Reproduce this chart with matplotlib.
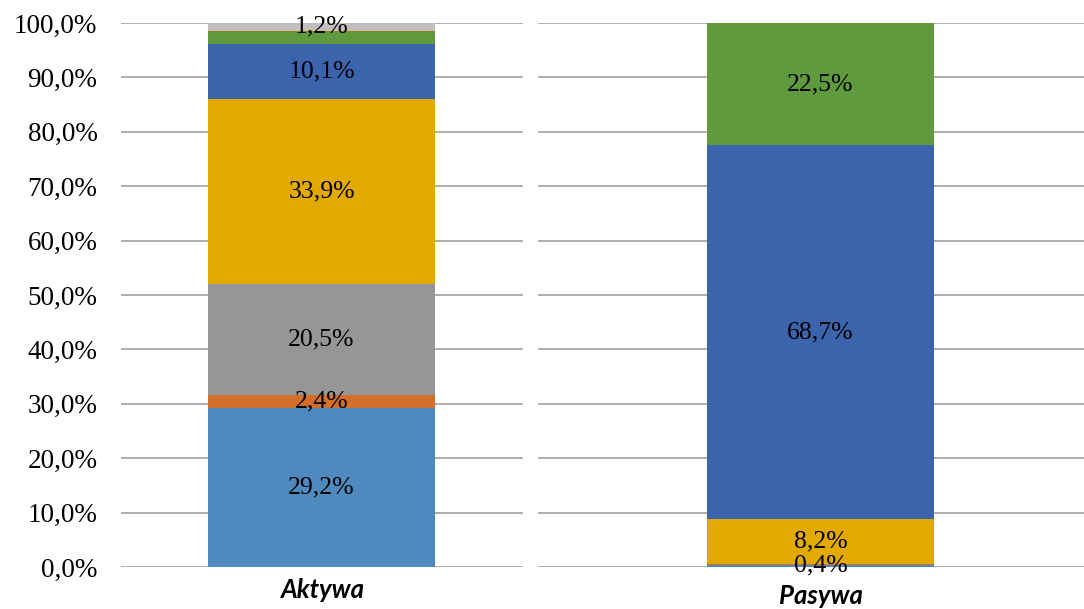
import matplotlib
matplotlib.use("Agg")
import matplotlib.pyplot as plt
import numpy as np

# Balance sheet structure, percent of total
categories = ["Aktywa", "Pasywa"]
series_colors = ["#4F8ABE", "#D36E2B", "#969696", "#E2AA00",
                 "#3C64AD", "#609A3F", "#F4B183", "#C0C0C0"]
series_values = [
    [29.2, 0.4],
    [2.4, 0.2],
    [20.5, 0.0],
    [33.9, 8.2],
    [10.1, 68.7],
    [2.5, 22.5],
    [0.2, 0.0],
    [1.2, 0.0],
]
# which segments carry a value label: (series index, category index)
labelled = {(0, 0), (1, 0), (2, 0), (3, 0), (4, 0), (7, 0),
            (0, 1), (3, 1), (4, 1), (5, 1)}
ytick_values = [0, 10, 20, 30, 40, 50, 60, 70, 80, 90, 100]

SERIF = "Liberation Serif"
SANS = "Lato"

fig = plt.figure(figsize=(10.84, 6.09), dpi=100)
ax = fig.add_axes([121 / 1084, 42 / 609, 963 / 1084, 544 / 609])
ax.set_xlim(-0.402, 1.528)
ax.set_ylim(0, 100)

# gridlines, broken between the two columns
for yv in ytick_values:
    ax.axhline(yv, xmin=0, xmax=0.416, color="#A0A0A0", lw=1.2, zorder=0)
    ax.axhline(yv, xmin=0.434, xmax=1, color="#A0A0A0", lw=1.2, zorder=0)

x = np.arange(len(categories))
bottom = np.zeros(len(categories))
width = 0.455
for si, (vals, col) in enumerate(zip(series_values, series_colors)):
    vals = np.array(vals)
    ax.bar(x, vals, width, bottom=bottom, color=col, zorder=2, linewidth=0)
    for ci in range(len(categories)):
        if (si, ci) in labelled:
            ax.text(x[ci], bottom[ci] + vals[ci] / 2,
                    f"{vals[ci]:.1f}%".replace(".", ","),
                    ha="center", va="center", fontsize=18.5,
                    family=SERIF, color="black", zorder=3)
    bottom += vals

ax.set_yticks(ytick_values)
ax.set_yticklabels([f"{v:.1f}%".replace(".", ",") for v in ytick_values],
                   family=SERIF, fontsize=19.5)
ax.tick_params(axis="y", length=0, pad=17)
ax.set_xticks([])
for spine in ax.spines.values():
    spine.set_visible(False)

# category names under each column
ax.text(0, -4.3, categories[0], ha="center", va="center", fontsize=18.5,
        family=SANS, fontweight="bold", fontstyle="italic",
        transform=ax.transData, clip_on=False)
ax.text(1, -5.4, categories[1], ha="center", va="center", fontsize=18.5,
        family=SANS, fontweight="bold", fontstyle="italic",
        transform=ax.transData, clip_on=False)

fig.savefig("out.png", dpi=100, facecolor="white")
